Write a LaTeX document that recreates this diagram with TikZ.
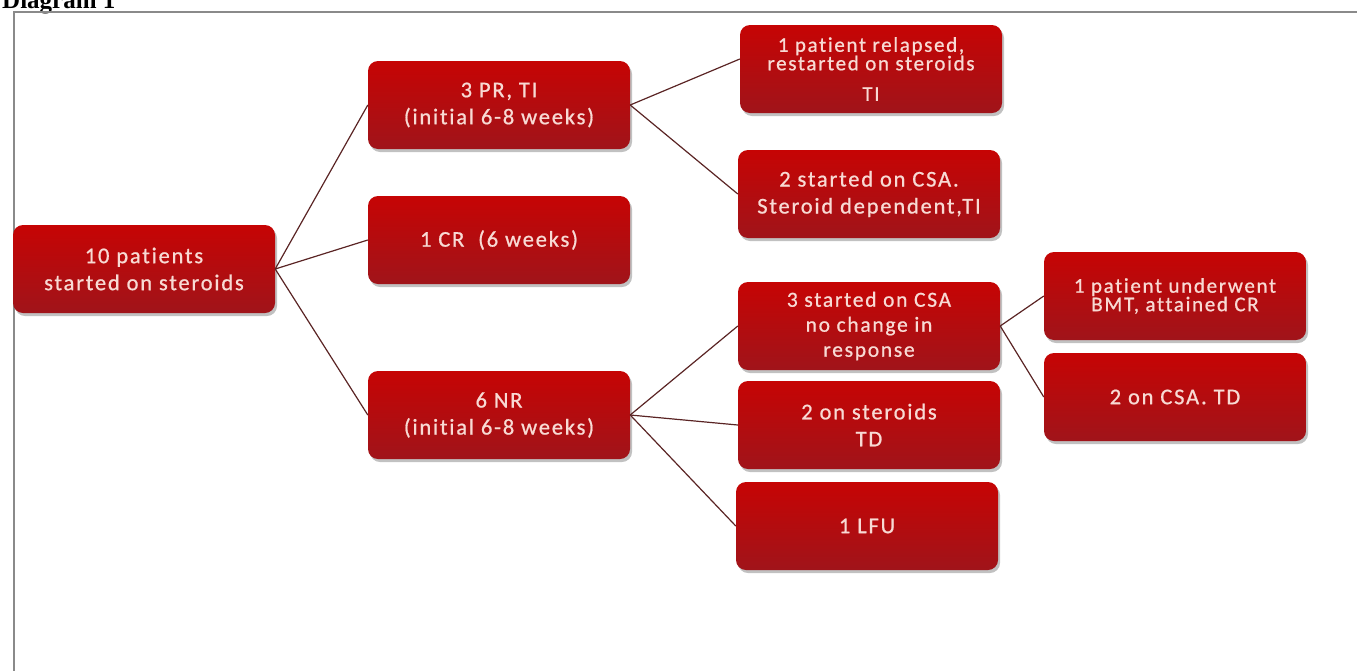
\documentclass[tikz,border=0pt]{standalone}
\usepackage{fontspec}
\newfontfamily\boxfont{Carlito}[LetterSpace=8, Ligatures={NoCommon}, FakeBold=0.8]
\newfontfamily\titlefont{Liberation Serif}
\usetikzlibrary{shadows}
\definecolor{boxtop}{HTML}{C60404}
\definecolor{boxbot}{HTML}{A0141A}
\definecolor{boxtext}{HTML}{F8DAD4}
\definecolor{linkcol}{HTML}{5A2424}
\definecolor{framecol}{HTML}{8A8A8A}
\tikzset{
  box/.style={rounded corners=10pt, top color=boxtop, bottom color=boxbot,
    minimum width=262pt, minimum height=88pt, align=center, text=boxtext,
    inner sep=2pt,
    drop shadow={shadow xshift=2pt, shadow yshift=-3pt, opacity=0.35, fill=black!70},
    font=\boxfont\fontsize{22.5}{27}\selectfont},
  smallbox/.style={box, font=\boxfont\fontsize{21}{18.5}\selectfont},
  link/.style={draw=linkcol, line width=1.2pt},
  frame/.style={draw=framecol, line width=2pt}
}
\begin{document}
\begin{tikzpicture}[x=1pt,y=-1pt]
\useasboundingbox (0,0) rectangle (1357,670);
\clip (0,0) rectangle (1357,670);
\node[anchor=base west, font=\titlefont\bfseries\fontsize{25}{28}\selectfont, inner sep=0pt] (title) at (2,8) {Diagram 1};
\draw[frame] (14,672) -- (14,12) -- (1359,12);

\node[box] (A) at (144,269) {10 patients\\started on steroids};
\node[box] (B) at (499,105) {3 PR, TI\\(initial 6-8 weeks)};
\node[box] (C) at (499,240) {1 CR\ \ (6 weeks)};
\node[box] (D) at (499,415) {6 NR\\(initial 6-8 weeks)};
\node[smallbox] (E) at (871,69) {1 patient relapsed,\\restarted on steroids\\[12pt]TI};
\node[box] (F) at (869,194) {2 started on CSA.\\Steroid dependent,TI};
\node[box, font=\boxfont\fontsize{21.5}{25}\selectfont] (G) at (869,326) {3 started on CSA\\no change in\\response};
\node[box] (H) at (869,425) {2 on steroids\\TD};
\node[box] (I) at (867,526) {1 LFU};
\node[smallbox] (J) at (1175,296) {1 patient underwent\\BMT, attained CR};
\node[box] (K) at (1175,397) {2 on CSA. TD};

\draw[link] (A.east) -- (B.west);
\draw[link] (A.east) -- (C.west);
\draw[link] (A.east) -- (D.west);
\draw[link] (B.east) -- ([yshift=10pt]E.west);
\draw[link] (B.east) -- (F.west);
\draw[link] (D.east) -- (G.west);
\draw[link] (D.east) -- (H.west);
\draw[link] (D.east) -- (I.west);
\draw[link] (G.east) -- (J.west);
\draw[link] (G.east) -- (K.west);
\end{tikzpicture}
\end{document}
